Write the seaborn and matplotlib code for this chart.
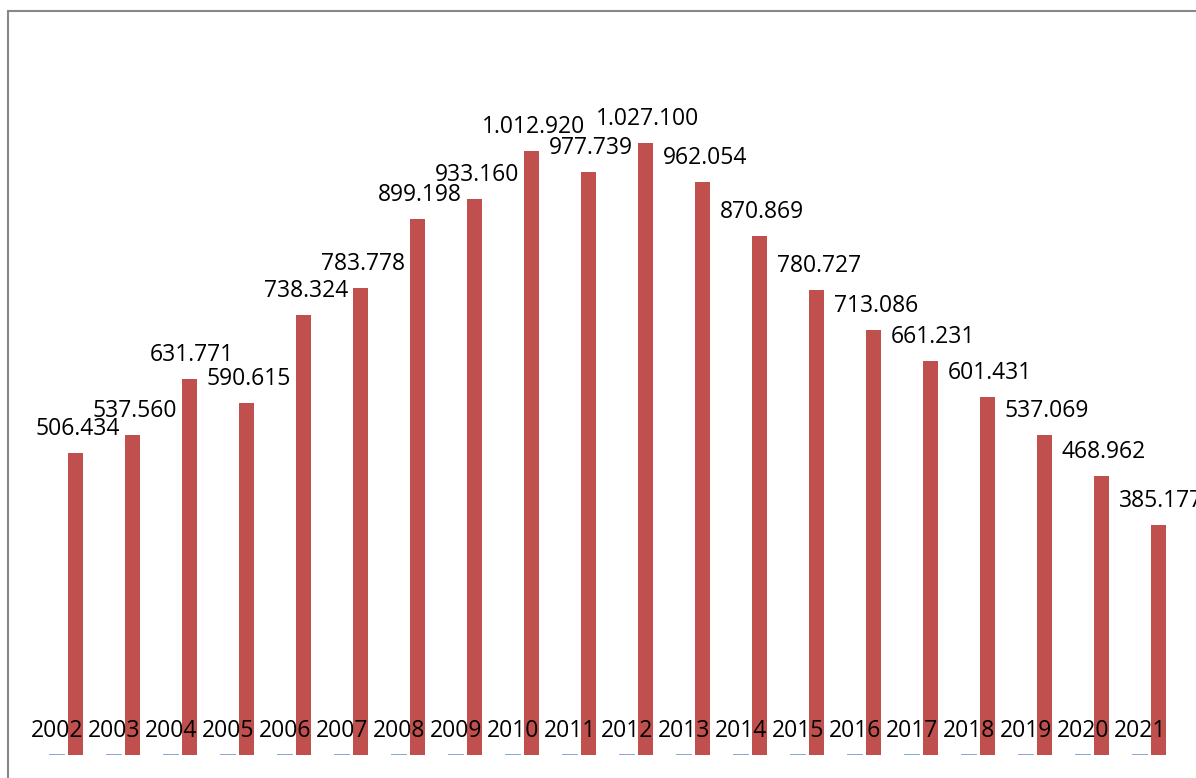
import matplotlib
matplotlib.use("Agg")
import matplotlib.pyplot as plt
import seaborn as sns
import pandas as pd
from matplotlib.patches import Rectangle

# ---- data ----
years = [2002, 2003, 2004, 2005, 2006, 2007, 2008, 2009, 2010, 2011,
         2012, 2013, 2014, 2015, 2016, 2017, 2018, 2019, 2020, 2021]
values = [506434, 537560, 631771, 590615, 738324, 783778, 899198, 933160,
          1012920, 977739, 1027100, 962054, 870869, 780727, 713086, 661231,
          601431, 537069, 468962, 385177]
series_names = ["Yıl", "Değer"]

df = pd.DataFrame({
    "cat": [str(y) for y in years] * 2,
    "series": [series_names[0]] * len(years) + [series_names[1]] * len(years),
    "val": list(years) + list(values),
})

BLUE = "#4F81BD"
RED = "#C0504D"

sns.set_style("white")
plt.rcParams["font.family"] = ["Open Sans", "DejaVu Sans"]

W, H = 1196, 778
fig = plt.figure(figsize=(W / 100, H / 100), dpi=100)
ax = fig.add_axes([37.75 / W, (H - 755) / H, 1140 / W, 715 / H])

sns.barplot(data=df, x="cat", y="val", hue="series",
            palette=[BLUE, RED], width=2 / 3, gap=0.21,
            legend=False, ax=ax, linewidth=0, saturation=1)

ax.set_xlim(-0.5, len(years) - 0.5)
ax.set_ylim(0, 1200000)
ax.axis("off")

# tiny blue bars drawn as visible dashes like the reference
for patch in ax.containers[0].patches:
    patch.set_facecolor("#86A6D6")
    patch.set_edgecolor("#86A6D6")
    patch.set_linewidth(0.7)

fs = 16.5
# year labels on the (tiny) blue bars
for patch, y in zip(ax.containers[0].patches, years):
    xc = patch.get_x() + patch.get_width() / 2
    ax.annotate(str(y), (xc, patch.get_height()), xytext=(0, 12.3),
                textcoords="offset points", ha="center", va="baseline",
                fontsize=fs, color="black")

# value labels on the red bars
for patch, v in zip(ax.containers[1].patches, values):
    xc = patch.get_x() + patch.get_width() / 2
    lab = f"{v:,}".replace(",", ".")
    ax.annotate(lab, (xc, patch.get_height()), xytext=(1.4, 13.0),
                textcoords="offset points", ha="center", va="baseline",
                fontsize=fs, color="black")

# chart-area border (extends beyond right/bottom of image)
fig.patches.append(Rectangle((8.3 / W, -0.2), 2.0, 1 - 10.8 / H + 0.2,
                             transform=fig.transFigure, fill=False,
                             edgecolor="#878787", linewidth=1.5,
                             clip_on=False))

fig.savefig("out.png", dpi=100)
